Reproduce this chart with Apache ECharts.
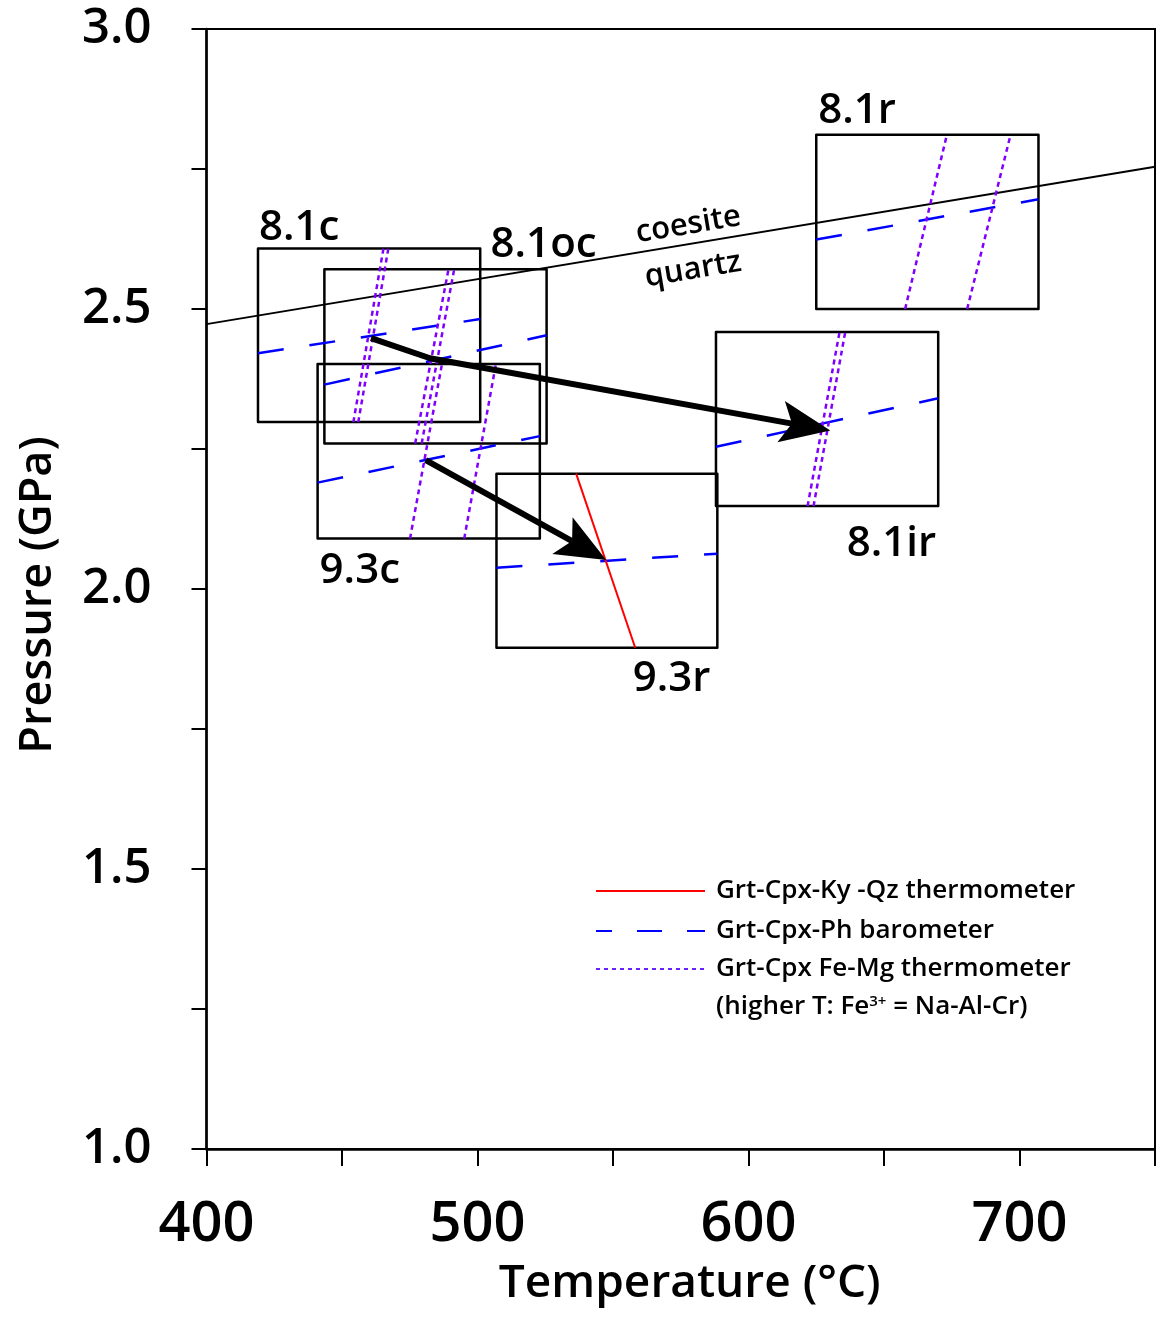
<!DOCTYPE html>
<html>
<head>
<meta charset="utf-8">
<script src="https://cdn.jsdelivr.net/npm/echarts@6/dist/echarts.min.js"></script>
<style>
  html, body { margin: 0; padding: 0; background: #fff; }
  #chart { width: 1156px; height: 1318px; }
</style>
</head>
<body>
<div id="chart"></div>
<script>
// sample P-T boxes (T in degC, P in GPa)
var boxNames = ['8.1c', '8.1oc', '9.3c', '9.3r', '8.1ir', '8.1r'];
var boxTmin = [419, 443.5, 441, 507, 588, 625];
var boxTmax = [501, 525.5, 523, 588.5, 670, 707];
var boxPmin = [2.298, 2.26, 2.09, 1.895, 2.148, 2.5];
var boxPmax = [2.608, 2.571, 2.402, 2.206, 2.459, 2.811];

// Grt-Cpx-Ph barometer, one segment per box: [T1, P1, T2, P2]
var baroLines = [
  [419, 2.421, 501, 2.482],
  [443.5, 2.365, 525.5, 2.453],
  [441, 2.19, 523, 2.273],
  [507, 2.038, 588.5, 2.063],
  [588, 2.254, 670, 2.3405],
  [625, 2.624, 707, 2.696]
];

// Grt-Cpx Fe-Mg thermometer (two per box)
var femgLines = [
  [454.2, 2.298, 465.3, 2.608],
  [456.0, 2.298, 467.1, 2.608],
  [477.0, 2.26, 489.3, 2.571],
  [479.4, 2.26, 491.4, 2.571],
  [475.1, 2.09, 486.9, 2.402],
  [495.1, 2.09, 506.8, 2.402],
  [621.8, 2.148, 633.6, 2.459],
  [624.0, 2.148, 635.7, 2.459],
  [657.8, 2.5, 673.2, 2.811],
  [680.7, 2.5, 696.7, 2.811]
];

// Grt-Cpx-Ky-Qz thermometer
var kyqzLines = [
  [536.4, 2.206, 558.2, 1.895]
];

// coesite = quartz reaction
var coesiteQuartz = [400, 2.473, 750, 2.754];

// P-T path arrows
var arrowPaths = [
  [[460.7, 2.448], [482.5, 2.412], [630.2, 2.283]],
  [[480.9, 2.23], [547.5, 2.052]]
];

var xLabels = [400, 500, 600, 700];
var yLabels = [1.0, 1.5, 2.0, 2.5, 3.0];

// where each box label sits relative to a box corner (pixels)
var boxLabelLayout = {
  '8.1c': { corner: 'lt', align: 'left', dx: 1, dy: -20 },
  '8.1oc': { corner: 'rt', align: 'left', dx: -56, dy: -24 },
  '9.3c': { corner: 'lb', align: 'left', dx: 2, dy: 32 },
  '9.3r': { corner: 'rb', align: 'right', dx: -7, dy: 31 },
  '8.1ir': { corner: 'rb', align: 'right', dx: -2, dy: 38 },
  '8.1r': { corner: 'lt', align: 'left', dx: 2, dy: -24 }
};

var FONT = '"Open Sans", "Noto Sans", sans-serif';
var WEIGHT = 600;

function toSeg(s) {
  return { coords: [[s[0], s[1]], [s[2], s[3]]] };
}

var myChart = echarts.init(document.getElementById('chart'));

var option = {
  animation: false,
  backgroundColor: '#fff',
  grid: {
    left: 206.5,
    right: 1,
    top: 29,
    bottom: 169,
    containLabel: false,
    outerBoundsMode: 'none',
    show: true,
    borderColor: '#000',
    borderWidth: 2
  },
  xAxis: {
    type: 'value',
    min: 400,
    max: 750,
    interval: 50,
    name: 'Temperature (°C)',
    nameLocation: 'middle',
    nameGap: 112,
    nameTextStyle: { fontFamily: FONT, fontWeight: WEIGHT, fontSize: 46, color: '#000', padding: [0, 0, 0, 18] },
    axisLine: { lineStyle: { color: '#000', width: 2.5 } },
    axisTick: { inside: false, length: 17, lineStyle: { color: '#000', width: 2 } },
    axisLabel: {
      margin: 48,
      fontFamily: FONT,
      fontWeight: WEIGHT,
      fontSize: 56,
      color: '#000',
      formatter: function (v) {
        return xLabels.indexOf(v) >= 0 ? String(v) : '';
      }
    },
    splitLine: { show: false }
  },
  yAxis: {
    type: 'value',
    min: 1,
    max: 3,
    interval: 0.25,
    name: 'Pressure (GPa)',
    nameLocation: 'middle',
    nameRotate: 90,
    nameGap: 146,
    nameTextStyle: { fontFamily: FONT, fontWeight: WEIGHT, fontSize: 45, color: '#000', padding: [0, 12, 0, 0] },
    axisLine: { lineStyle: { color: '#000', width: 2.5 } },
    axisTick: { inside: false, length: 15, lineStyle: { color: '#000', width: 2 } },
    axisLabel: {
      margin: 55,
      fontFamily: FONT,
      fontWeight: WEIGHT,
      fontSize: 49,
      color: '#000',
      formatter: function (v) {
        for (var i = 0; i < yLabels.length; i++) {
          if (Math.abs(yLabels[i] - v) < 1e-6) return v.toFixed(1);
        }
        return '';
      }
    },
    splitLine: { show: false }
  },
  series: [
    {
      // boxes with their names
      type: 'custom',
      z: 2,
      data: boxNames.map(function (n, i) {
        return [boxTmin[i], boxPmin[i], boxTmax[i], boxPmax[i]];
      }),
      encode: { x: [0, 2], y: [1, 3] },
      renderItem: function (params, api) {
        var tl = api.coord([api.value(0), api.value(3)]);
        var br = api.coord([api.value(2), api.value(1)]);
        var name = boxNames[params.dataIndex];
        var lay = boxLabelLayout[name];
        var ax = lay.corner.charAt(0) === 'l' ? tl[0] : br[0];
        var ay = lay.corner.charAt(1) === 't' ? tl[1] : br[1];
        return {
          type: 'group',
          children: [
            {
              type: 'rect',
              shape: { x: tl[0], y: tl[1], width: br[0] - tl[0], height: br[1] - tl[1] },
              style: { fill: null, stroke: '#000', lineWidth: 2.5, lineJoin: 'round' }
            },
            {
              type: 'text',
              x: ax + lay.dx,
              y: ay + lay.dy,
              style: {
                text: name,
                fontFamily: FONT,
                fontWeight: WEIGHT,
                fontSize: 42,
                fill: '#000',
                align: lay.align,
                verticalAlign: 'middle'
              }
            }
          ]
        };
      }
    },
    {
      type: 'lines',
      coordinateSystem: 'cartesian2d',
      z: 3,
      data: [toSeg(coesiteQuartz)],
      lineStyle: { color: '#000', width: 2, opacity: 1 }
    },
    {
      type: 'lines',
      coordinateSystem: 'cartesian2d',
      z: 3,
      data: baroLines.map(toSeg),
      lineStyle: { color: '#0000ff', width: 2.5, opacity: 1, type: [26, 26], dashOffset: 0 }
    },
    {
      type: 'lines',
      coordinateSystem: 'cartesian2d',
      z: 3,
      data: femgLines.map(toSeg),
      lineStyle: { color: '#8000ff', width: 2.5, opacity: 1, type: [5, 4] }
    },
    {
      type: 'lines',
      coordinateSystem: 'cartesian2d',
      z: 3,
      data: kyqzLines.map(toSeg),
      lineStyle: { color: '#ff0000', width: 2, opacity: 1 }
    },
    {
      // P-T path arrows
      type: 'custom',
      z: 5,
      data: arrowPaths.map(function (p) { return [p[0][0], p[0][1]]; }),
      renderItem: function (params, api) {
        var pts = arrowPaths[params.dataIndex].map(function (p) { return api.coord(p); });
        var tip = pts[pts.length - 1];
        var prev = pts[pts.length - 2];
        var dx = tip[0] - prev[0], dy = tip[1] - prev[1];
        var len = Math.sqrt(dx * dx + dy * dy);
        var ux = dx / len, uy = dy / len, nx = -uy, ny = ux;
        var L = 50, W = 21, N = 0.78 * L;
        var notch = [tip[0] - ux * N, tip[1] - uy * N];
        var shaft = pts.slice(0, -1).concat([notch]);
        var head = [
          tip,
          [tip[0] - ux * L + nx * W, tip[1] - uy * L + ny * W],
          notch,
          [tip[0] - ux * L - nx * W, tip[1] - uy * L - ny * W]
        ];
        return {
          type: 'group',
          children: [
            { type: 'polyline', shape: { points: shaft }, style: { stroke: '#000', lineWidth: 6, fill: null, lineJoin: 'round' } },
            { type: 'polygon', shape: { points: head }, style: { fill: '#000' } }
          ]
        };
      }
    }
  ]
};

myChart.setOption(option);

// phase labels along the coesite-quartz line
var pA = myChart.convertToPixel({ gridIndex: 0 }, [coesiteQuartz[0], coesiteQuartz[1]]);
var pB = myChart.convertToPixel({ gridIndex: 0 }, [coesiteQuartz[2], coesiteQuartz[3]]);
var ang = Math.atan2(-(pB[1] - pA[1]), pB[0] - pA[0]);
function onLine(T) {
  var f = (T - coesiteQuartz[0]) / (coesiteQuartz[2] - coesiteQuartz[0]);
  return myChart.convertToPixel({ gridIndex: 0 }, [T, coesiteQuartz[1] + f * (coesiteQuartz[3] - coesiteQuartz[1])]);
}
function phaseLabel(text, T, off) {
  var p = onLine(T);
  return {
    type: 'text',
    x: p[0] - Math.sin(ang) * off,
    y: p[1] - Math.cos(ang) * off,
    rotation: ang,
    style: { text: text, fontFamily: FONT, fontWeight: WEIGHT, fontSize: 31, fill: '#000', align: 'center', verticalAlign: 'middle' }
  };
}

// legend
var legendRows = [
  { text: 'Grt-Cpx-Ky -Qz thermometer', color: '#ff0000', dash: null, y: 891 },
  { text: 'Grt-Cpx-Ph barometer', color: '#0000ff', dash: [25, 25], y: 931 },
  { text: 'Grt-Cpx Fe-Mg thermometer', color: '#6a22ff', dash: [4, 4], y: 969 }
];
var legendEls = [];
legendRows.forEach(function (r) {
  legendEls.push({
    type: 'line',
    shape: { x1: 596, y1: r.y, x2: 705, y2: r.y },
    style: { stroke: r.color, lineWidth: 2, lineDash: r.dash, lineDashOffset: r.dash && r.dash[0] > 10 ? 9 : 0 }
  });
  legendEls.push({
    type: 'text',
    x: 716,
    y: r.y,
    style: { text: r.text, fontFamily: FONT, fontWeight: WEIGHT, fontSize: 26, fill: '#000', verticalAlign: 'middle' }
  });
});
legendEls.push({
  type: 'text',
  x: 716,
  y: 1007,
  style: {
    text: '(higher T: Fe{sup|3+} = Na-Al-Cr)',
    fontFamily: FONT,
    fontWeight: WEIGHT,
    fontSize: 26,
    fill: '#000',
    verticalAlign: 'middle',
    rich: {
      sup: { fontFamily: FONT, fontWeight: WEIGHT, fontSize: 15, fill: '#000', verticalAlign: 'top' }
    }
  }
});

myChart.setOption({
  graphic: [
    phaseLabel('coesite', 579, 19),
    phaseLabel('quartz', 578, -26)
  ].concat(legendEls)
});
</script>
</body>
</html>
